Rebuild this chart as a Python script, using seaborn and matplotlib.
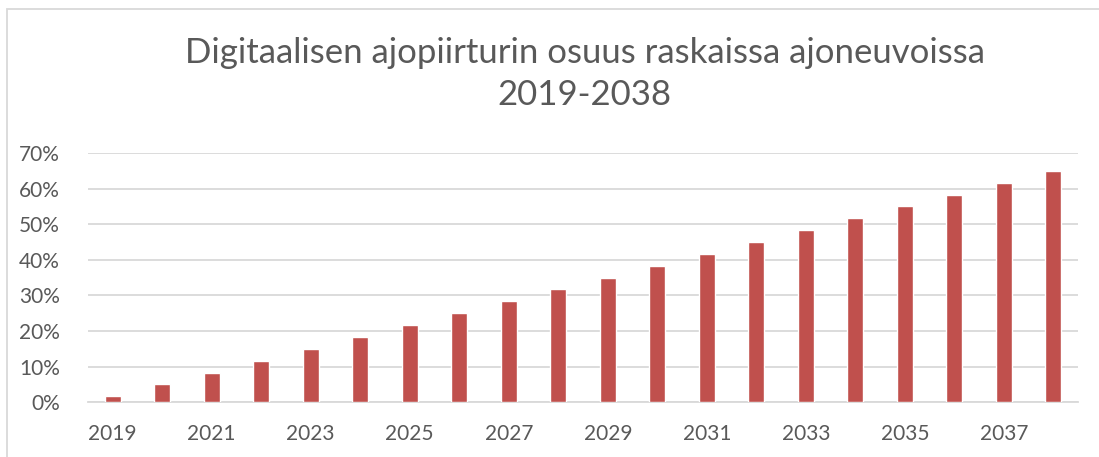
import matplotlib
matplotlib.use("Agg")
import matplotlib.pyplot as plt
import matplotlib.patches as mpatches
from matplotlib.ticker import PercentFormatter
import seaborn as sns
import pandas as pd

years = [str(y) for y in range(2019, 2039)]
share = [0.017, 0.050, 0.083, 0.117, 0.150, 0.183, 0.217, 0.250, 0.283, 0.317,
         0.350, 0.383, 0.417, 0.450, 0.483, 0.517, 0.550, 0.583, 0.617, 0.650]
title = "Digitaalisen ajopiirturin osuus raskaissa ajoneuvoissa\n2019-2038"

sns.set_theme(style="white")
plt.rcParams['font.family'] = ['Lato', 'DejaVu Sans']

text_col = '#595959'
grid_col = '#d9d9d9'

df = pd.DataFrame({'year': years, 'share': share})

fig = plt.figure(figsize=(10.99, 4.57), dpi=100)
ax = fig.add_axes([0.080, 0.120, 0.901, 0.545])

sns.barplot(data=df, x='year', y='share', color='#c0504d', width=0.32,
            saturation=1, ax=ax, zorder=3)

ax.set_ylim(0, 0.7)
ax.set_xlim(-0.5, len(years) - 0.5)
ax.set_yticks([i / 10 for i in range(8)])
ax.yaxis.set_major_formatter(PercentFormatter(1.0, decimals=0))
ax.set_xticks(range(0, len(years), 2))
ax.set_xticklabels(years[::2])
ax.grid(axis='y', color=grid_col, linewidth=1.3, zorder=0)
ax.tick_params(axis='both', length=0, labelsize=15, labelcolor=text_col)
ax.tick_params(axis='x', pad=16)
ax.tick_params(axis='y', pad=20)
for side in ['top', 'right', 'left']:
    ax.spines[side].set_visible(False)
ax.spines['bottom'].set_color(grid_col)
ax.spines['bottom'].set_linewidth(1.3)
ax.set_xlabel('')
ax.set_ylabel('')

fig.text(0.532, 0.838, title, ha='center', va='center', fontsize=25,
         color=text_col, linespacing=1.38)

# chart frame
W, H = 1099, 457
fig.patches.append(mpatches.Rectangle((7 / W, -0.1), 1.2, 1 - 9 / H + 0.1,
                                      transform=fig.transFigure, fill=False,
                                      edgecolor=grid_col, linewidth=1.3))

fig.savefig('out.png', dpi=100)
